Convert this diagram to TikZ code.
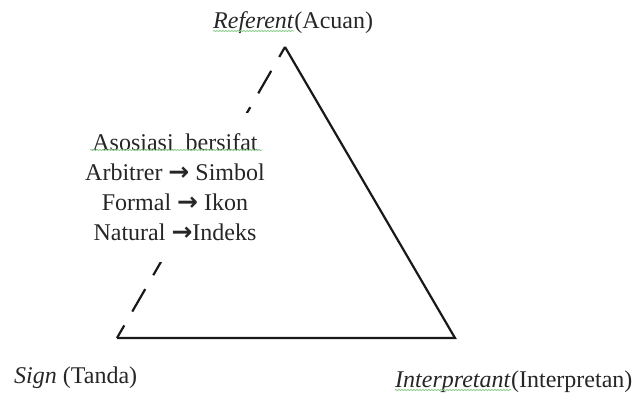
\documentclass[tikz,border=0pt]{standalone}
\usepackage{fontspec}
\setmainfont{Liberation Serif}
\newfontfamily\arrowfont{DejaVu Sans}
\newcommand{\thickarrow}{{\arrowfont\bfseries\fontsize{25}{30}\selectfont →}}
\usetikzlibrary{decorations.pathmorphing}
\begin{document}
\begin{tikzpicture}[x=1pt,y=-1pt,
  edge/.style={line width=2.2pt, color=black!90, line cap=butt, line join=miter},
  dashededge/.style={edge, dash pattern=on 26pt off 16pt, dash phase=11.5pt},
  lbl/.style={inner sep=0pt, font=\fontsize{24}{30}\selectfont, text=black!85},
  spell/.style={draw=green!55!black!45, line width=0.8pt,
    decorate, decoration={snake, amplitude=0.6pt, segment length=3pt}},
  assoc/.style={lbl, align=center, fill=white, minimum width=190pt, minimum height=149pt}
]
\useasboundingbox (0,0) rectangle (641,394);
% triangle corners
\coordinate (R) at (285,47);
\coordinate (S) at (117,338);
\coordinate (I) at (455,338);
\draw[edge] (S) -- (I) -- (R);
\draw[dashededge] (S) -- (R);
% association text (white box hides the middle of the dashed edge)
\node[assoc] (as) at (175,187.5) {Asosiasi\ \ bersifat\\Arbitrer \thickarrow\ Simbol\\Formal \thickarrow\ Ikon\\Natural \thickarrow Indeks};
\draw[spell] (90,150) -- (262,150);
% corner labels
\node[lbl, anchor=base west] (ref) at (213,28) {\textit{Referent}};
\node[lbl, anchor=base west] (acuan) at (ref.base east) {(Acuan)};
\draw[spell] ([yshift=-3pt]ref.base west) -- ([yshift=-3pt]ref.base east);
\node[lbl, anchor=base west] (sign) at (14,383) {\textit{Sign} (Tanda)};
\node[lbl, anchor=base west] (int) at (395,387) {\textit{Interpretant}};
\node[lbl, anchor=base west] (intp) at (int.base east) {(Interpretan)};
\draw[spell] ([yshift=-3pt]int.base west) -- ([yshift=-3pt]int.base east);
\end{tikzpicture}
\end{document}
